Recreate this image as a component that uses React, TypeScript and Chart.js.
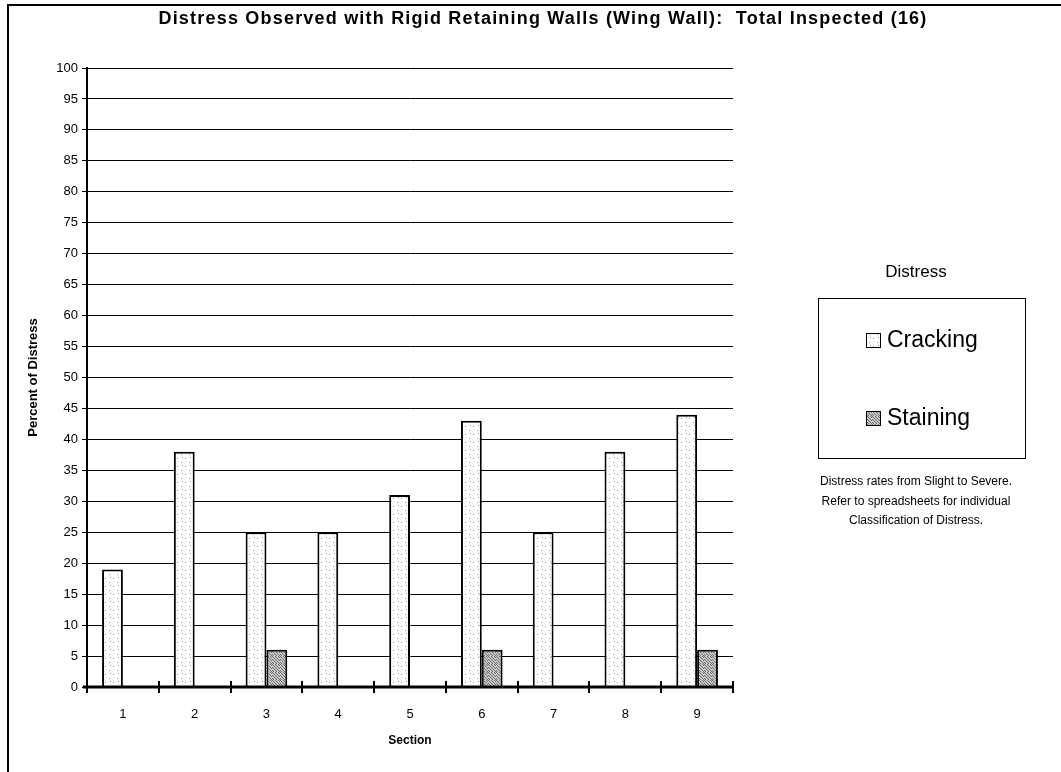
import React, { useEffect, useRef } from "react";
import { Chart, registerables } from "chart.js";

Chart.register(...registerables);

const titleText = "Distress Observed with Rigid Retaining Walls (Wing Wall):  Total Inspected (16)";
const sections = ["1", "2", "3", "4", "5", "6", "7", "8", "9"];
const cracking = [19, 38, 25, 25, 31, 43, 25, 38, 44];
const staining = [0, 0, 6, 0, 0, 6, 0, 0, 6];
const seriesLabels = ["Cracking", "Staining"];
const legendTitle = "Distress";
const noteLines = [
  "Distress rates from Slight to Severe.",
  "Refer to spreadsheets for individual",
  "Classification of Distress.",
];
const yTitle = "Percent of Distress";
const xTitle = "Section";

const FONT = "'Liberation Sans', Arial, Helvetica, sans-serif";

function makePattern(kind: "light" | "dark"): CanvasPattern | string {
  const c = document.createElement("canvas");
  c.width = 8;
  c.height = 8;
  const g = c.getContext("2d");
  if (!g) return kind === "light" ? "#f4f4f4" : "#a0a0a0";
  if (kind === "light") {
    g.fillStyle = "#ffffff";
    g.fillRect(0, 0, 8, 8);
    g.fillStyle = "#9a9a9a";
    g.fillRect(1, 2, 1, 1);
    g.fillRect(5, 6, 1, 1);
    g.fillRect(6, 1, 1, 1);
  } else {
    g.fillStyle = "#c8c8c8";
    g.fillRect(0, 0, 8, 8);
    g.fillStyle = "#6e6e6e";
    for (let y = 0; y < 8; y++) {
      for (let x = 0; x < 8; x++) {
        if ((x + y * 2) % 3 === 0) g.fillRect(x, y, 1, 1);
      }
    }
  }
  const p = g.createPattern(c, "repeat");
  return p || (kind === "light" ? "#f4f4f4" : "#a0a0a0");
}

export default function App() {
  const ref = useRef<HTMLCanvasElement | null>(null);

  useEffect(() => {
    document.body.style.margin = "0";
    const canvas = ref.current;
    if (!canvas) return;
    const light = makePattern("light");
    const dark = makePattern("dark");

    const decor = {
      id: "decor",
      afterDatasetsDraw(chart: any) {
        const ctx = chart.ctx as CanvasRenderingContext2D;
        const area = chart.chartArea;
        ctx.save();
        // x axis line
        ctx.strokeStyle = "#000";
        ctx.lineWidth = 3;
        ctx.beginPath();
        ctx.moveTo(area.left - 4, area.bottom);
        ctx.lineTo(area.right, area.bottom);
        ctx.stroke();
        // category boundary ticks crossing the axis
        const n = chart.data.labels.length;
        const w = (area.right - area.left) / n;
        ctx.lineWidth = 2;
        for (let i = 0; i <= n; i++) {
          const x = Math.round(area.left + i * w);
          ctx.beginPath();
          ctx.moveTo(x, area.bottom - 6);
          ctx.lineTo(x, area.bottom + 6);
          ctx.stroke();
        }
        ctx.restore();
      },
      afterDraw(chart: any) {
        const ctx = chart.ctx as CanvasRenderingContext2D;
        ctx.save();
        // outer frame (top and left)
        ctx.strokeStyle = "#000";
        ctx.lineWidth = 2;
        ctx.beginPath();
        ctx.moveTo(8, 772);
        ctx.lineTo(8, 5);
        ctx.lineTo(1061, 5);
        ctx.stroke();

        // chart title
        ctx.fillStyle = "#000";
        ctx.textAlign = "center";
        ctx.textBaseline = "middle";
        ctx.font = `bold 18px ${FONT}`;
        (ctx as any).letterSpacing = "1.2px";
        ctx.fillText(titleText, 543, 19);
        (ctx as any).letterSpacing = "0px";

        // legend title
        ctx.font = `17px ${FONT}`;
        ctx.fillText(legendTitle, 916, 272);

        // legend box
        ctx.lineWidth = 1;
        ctx.strokeRect(818.5, 298.5, 207, 160);
        const ds = chart.data.datasets;
        const ys = [340, 418];
        ctx.textAlign = "left";
        ctx.font = `23px ${FONT}`;
        for (let i = 0; i < ds.length; i++) {
          const y = ys[i];
          ctx.fillStyle = ds[i].backgroundColor;
          ctx.fillRect(866, y - 7, 14, 14);
          ctx.strokeStyle = "#000";
          ctx.lineWidth = 1;
          ctx.strokeRect(866.5, y - 6.5, 14, 14);
          ctx.fillStyle = "#000";
          ctx.fillText(ds[i].label, 887, y + 1);
        }

        // note
        ctx.textAlign = "center";
        ctx.font = `12px ${FONT}`;
        noteLines.forEach((t, i) => ctx.fillText(t, 916, 482 + i * 19.5));
        ctx.restore();
      },
    };

    const chart = new Chart(canvas, {
      type: "bar",
      data: {
        labels: sections,
        datasets: [
          {
            label: seriesLabels[0],
            data: cracking,
            backgroundColor: light as any,
            borderColor: "#000",
            borderWidth: 2,
            borderSkipped: "start",
          },
          {
            label: seriesLabels[1],
            data: staining,
            backgroundColor: dark as any,
            borderColor: "#000",
            borderWidth: 2,
            borderSkipped: "start",
          },
        ],
      },
      options: {
        responsive: false,
        animation: false,
        events: [],
        layout: { padding: { left: 22, right: 328, top: 68, bottom: 0 } },
        datasets: { bar: { categoryPercentage: 0.58, barPercentage: 1 } },
        plugins: {
          legend: { display: false },
          tooltip: { enabled: false },
          title: { display: false },
        },
        scales: {
          x: {
            offset: true,
            grid: { display: false },
            border: { display: false },
            ticks: { color: "#000", font: { family: FONT, size: 13 }, padding: 12, maxRotation: 0 },
            title: {
              display: true,
              text: xTitle,
              color: "#000",
              font: { family: FONT, size: 12, weight: "bold" },
              padding: { top: 4, bottom: 24 },
            },
            afterFit(s: any) {
              s.height = 85;
            },
          },
          y: {
            min: 0,
            max: 100,
            ticks: { stepSize: 5, color: "#000", font: { family: FONT, size: 13 }, padding: 4 },
            grid: { color: "#000", lineWidth: 1, tickLength: 5 },
            border: { display: true, color: "#000", width: 2 },
            title: {
              display: true,
              text: yTitle,
              color: "#000",
              font: { family: FONT, size: 13, weight: "bold" },
              padding: { top: 4, bottom: 4 },
            },
            afterFit(s: any) {
              s.width = 65;
            },
          },
        },
      },
      plugins: [decor],
    });
    return () => chart.destroy();
  }, []);

  return <canvas ref={ref} width={1061} height={772} style={{ display: "block" }} />;
}
